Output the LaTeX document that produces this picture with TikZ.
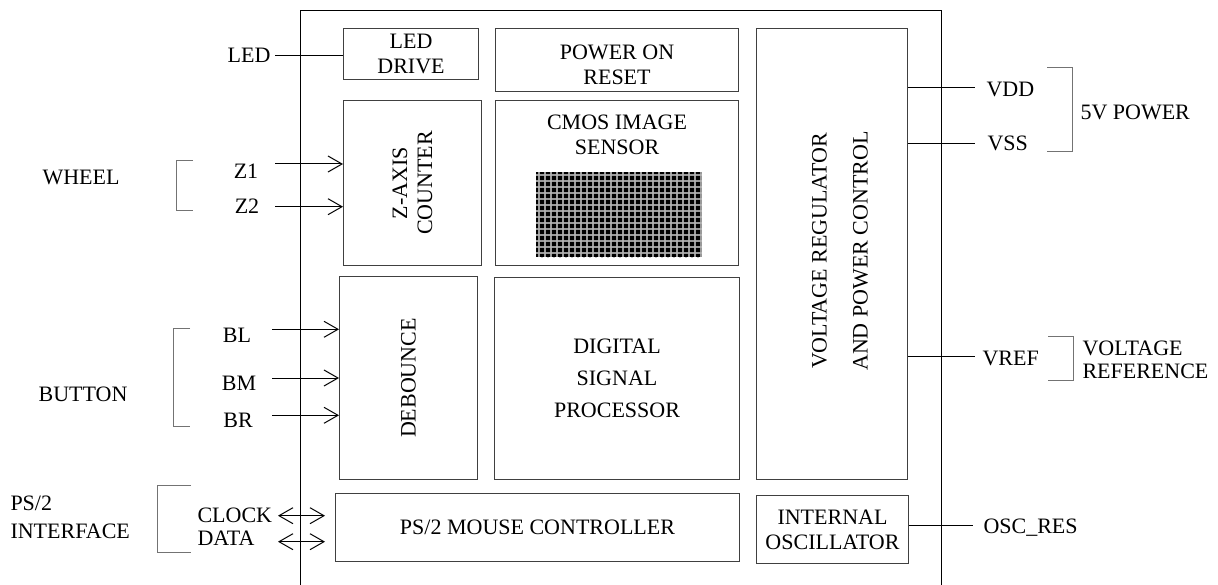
\documentclass[tikz,border=0pt]{standalone}
\usepackage{fontspec}
\setmainfont{Liberation Serif}
\usetikzlibrary{arrows.meta}
\begin{document}
\begin{tikzpicture}[
        x = 1pt, y = -1pt, % one unit per pixel, y down
        > = {Straight Barb[length=14pt,width=16pt]}, % open arrow head
        line width = 1pt, % line style
        font = \fontsize{22}{25}\selectfont
      ]

      \tikzstyle{block}=[rectangle,draw=black!75,inner sep=0pt,anchor=north west,align=center]
      \tikzstyle{sig}=[inner sep=0pt]
      \tikzstyle{brace}=[draw=black!55]

      \useasboundingbox (0,0) rectangle (1218,585);

      % chip outline
      \draw (300,585) |- (941,11) -- (941,585);

      % blocks
      \node[block, minimum width=135pt, minimum height=51pt] (led) at (343,28) {LED\\DRIVE};
      \node[block, minimum width=243pt, minimum height=63pt] (por) at (495,28) {};
      \node[block, minimum width=138pt, minimum height=165pt] (zaxis) at (343,100) {};
      \node[block, minimum width=243pt, minimum height=165pt] (cmos) at (495,100) {};
      \node[block, minimum width=138pt, minimum height=203pt] (deb) at (339,276) {};
      \node[block, minimum width=245pt, minimum height=202pt] (dsp) at (494,277) {DIGITAL\\[7pt]SIGNAL\\[7pt]PROCESSOR};
      \node[block, minimum width=151pt, minimum height=451pt] (vrm) at (756,28) {};
      \node[block, minimum width=404pt, minimum height=68pt] (ps2) at (335,493) {PS/2 MOUSE CONTROLLER};
      \node[block, minimum width=152pt, minimum height=68pt] (osc) at (756,495) {INTERNAL\\OSCILLATOR};

      \node[align=center] (porlbl) at (617,65) {POWER ON\\RESET};
      \node[rotate=90, align=center] (zaxislbl) at (zaxis.center) {Z-AXIS\\COUNTER};
      \node[rotate=90] (deblbl) at (deb.center) {DEBOUNCE};
      \node[rotate=90, align=center] (vrmlbl) at (840,251) {VOLTAGE REGULATOR\\[16pt]AND POWER CONTROL};
      \node[align=center] (cmoslbl) at (617,134.7) {CMOS IMAGE\\SENSOR};

      % sensor array
      \fill[black] (536,172) rectangle (702,257);
      \foreach \x in {539,545,...,701} \draw[gray!80, line width=1.2pt] (\x,172) -- (\x,257);
      \foreach \y in {175,181,...,256} \draw[gray!80, line width=1.2pt] (536,\y) -- (702,\y);
      \foreach \x in {542,548,...,701}
        \foreach \y in {178,184,...,256} \fill[black] (\x,\y) circle (1.6pt);
      \foreach \x in {539,545,...,701}
        \foreach \y in {175,181,...,256} \fill[white] (\x,\y) circle (0.7pt);

      % pins
      \coordinate (ledpin) at (275,56);
      \coordinate (z1) at (275,164);
      \coordinate (z2) at (275,206.7);
      \coordinate (bl) at (272,329.3);
      \coordinate (bm) at (272,378);
      \coordinate (br) at (272,415.3);
      \coordinate (clk) at (278,515.7);
      \coordinate (dat) at (278,541.7);
      \coordinate (vdd) at (975,87.7);
      \coordinate (vss) at (975,144);
      \coordinate (vref) at (975,356);
      \coordinate (oscres) at (973,525.7);

      \draw (ledpin) -- (led.west |- ledpin);
      \draw[->] (z1) -- (zaxis.west |- z1);
      \draw[->] (z2) -- (zaxis.west |- z2);
      \draw[->] (bl) -- (deb.west |- bl);
      \draw[->] (bm) -- (deb.west |- bm);
      \draw[->] (br) -- (deb.west |- br);
      \draw[<->, shorten >=10pt] (clk) -- (ps2.west |- clk);
      \draw[<->, shorten >=10pt] (dat) -- (ps2.west |- dat);
      \draw (vrm.east |- vdd) -- (vdd);
      \draw (vrm.east |- vss) -- (vss);
      \draw (vrm.east |- vref) -- (vref);
      \draw (osc.east |- oscres) -- (oscres);

      % pin names
      \node[sig, anchor=base] (ledlbl) at (249,63) {LED};
      \node[sig, anchor=base] (z1lbl) at (246,179) {Z1};
      \node[sig, anchor=base] (z2lbl) at (247,214) {Z2};
      \node[sig, anchor=base] (bllbl) at (237,342.7) {BL};
      \node[sig, anchor=base] (bmlbl) at (239,390) {BM};
      \node[sig, anchor=base] (brlbl) at (238,427.3) {BR};
      \node[sig, anchor=base west] (clklbl) at (197,522.3) {CLOCK};
      \node[sig, anchor=base west] (datlbl) at (197,545) {DATA};
      \node[sig, anchor=base west] (vddlbl) at (986,96.7) {VDD};
      \node[sig, anchor=base west] (vsslbl) at (987,151) {VSS};
      \node[sig, anchor=base west] (vreflbl) at (982,365) {VREF};
      \node[sig, anchor=base west] (osclbl) at (983,533) {OSC\_RES};

      % groups
      \node[sig, anchor=base] (wheel) at (81,185) {WHEEL};
      \node[sig, anchor=base] (button) at (83,401.7) {BUTTON};
      \node[sig, anchor=west, align=left] (ps2if) at (10,517) {PS/2\\[3pt]INTERFACE};
      \node[sig, anchor=base west] (power) at (1080,119.3) {5V POWER};
      \node[sig, anchor=west, align=left] (vrefgrp) at (1082,359.7) {VOLTAGE\\[-2pt]REFERENCE};

      \draw[brace] (193,161) -| (176,211) -- (193,211);
      \draw[brace] (190,328) -| (173,426) -- (190,426);
      \draw[brace] (191,485) -| (157,552) -- (191,552);
      \draw[brace] (1047,68) -| (1072,152) -- (1047,152);
      \draw[brace] (1048,336) -| (1073,380) -- (1048,380);

    \end{tikzpicture}
\end{document}
